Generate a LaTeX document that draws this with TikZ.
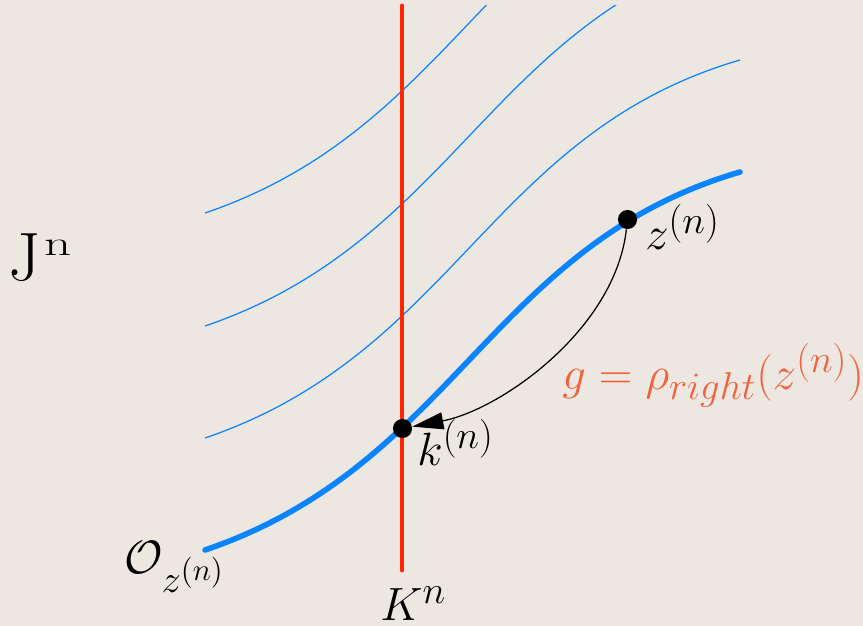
\RequirePackage{fix-cm}
\documentclass[tikz,border=0pt]{standalone}
\usetikzlibrary{arrows.meta}
\DeclareMathSizes{22.5}{22.5}{18.7}{15}
\definecolor{bgc}{RGB}{236,231,225}
\definecolor{redl}{RGB}{255,38,0}
\definecolor{bluel}{RGB}{10,132,255}
\definecolor{labc}{RGB}{240,98,60}
\begin{document}
\begin{tikzpicture}[x=0.482pt,y=-0.482pt,
  dotnode/.style={circle,fill=black,inner sep=0pt,minimum size=9.2pt},
  lab/.style={inner sep=0pt,anchor=base west,font=\fontsize{22.5}{27}\selectfont},
  thinblue/.style={bluel,line width=0.6pt},
  thickblue/.style={bluel,line width=2.7pt,line cap=round},
  redline/.style={redl,line width=2.4pt,line cap=round},
  conn/.style={black,line width=0.6pt,-{Triangle[length=15pt,width=8.2pt]}}]
\useasboundingbox (0,0) rectangle (863,626);
\fill[bgc] (0,0) rectangle (863,626);
% thin orbits
\begin{scope}
  \clip (0,6) rectangle (863,626);
  \foreach \s in {112,224,337}{
    \draw[thinblue,shift={(0,-\s)}] (205,550) .. controls (455,465) and (490,245) .. (740,172);
  }
\end{scope}
% red line K^n
\coordinate (rtop) at (402,6);
\coordinate (rbot) at (402,570);
\draw[redline] (rtop) -- (rbot);
% thick orbit
\coordinate (os) at (205,550);
\coordinate (oe) at (740,172);
\draw[thickblue] (os) .. controls (455,465) and (490,245) .. (oe);
% points
\node[dotnode] (k) at (402.5,428.5) {};
\node[dotnode] (z) at (627.5,219.5) {};
\draw[conn] (z) .. controls (615,330) and (500,410) .. (k);
% labels
\node[lab] (lk) at (417,465) {$k^{(n)}$};
\node[lab] (lz) at (645,250) {$z^{(n)}$};
\node[lab] (lK) at (380,620) {$K^n$};
\node[lab] (lO) at (124,573) {$\mathcal{O}_{z^{(n)}}$};
\node[lab,text=labc] (lg) at (562,389) {$g=\rho_{right}(z^{(n)})$};
\node[inner sep=0pt,anchor=base west,font=\fontsize{33}{40}\selectfont] (lJ) at (8,281)
  {J\hspace{2pt}\raisebox{12.5pt}{\fontsize{17}{20}\selectfont\scalebox{1.5}[1]{n}}};
\end{tikzpicture}
\end{document}
